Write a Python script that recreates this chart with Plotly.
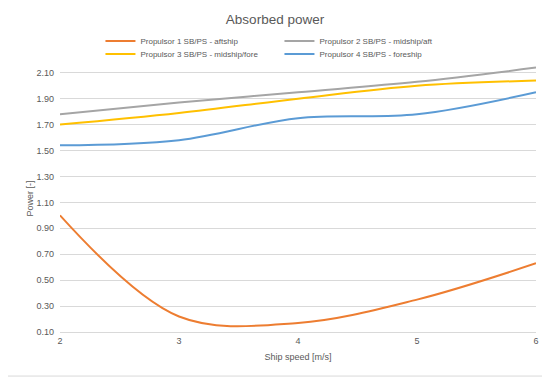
import plotly.graph_objects as go

speed = [2, 3, 4, 5, 6]
p1_aftship = [1.00, 0.22, 0.17, 0.35, 0.63]
p2_midship_aft = [1.78, 1.87, 1.95, 2.03, 2.14]
p3_midship_fore = [1.70, 1.79, 1.90, 2.00, 2.04]
p4_foreship = [1.54, 1.58, 1.75, 1.78, 1.95]

names = ["Propulsor 1 SB/PS - aftship", "Propulsor 2 SB/PS - midship/aft",
         "Propulsor 3 SB/PS - midship/fore", "Propulsor 4 SB/PS - foreship"]
series = [p1_aftship, p2_midship_aft, p3_midship_fore, p4_foreship]
colors = ["#ED7D31", "#A5A5A5", "#FFC000", "#5B9BD5"]
legend_rows = ["legend", "legend", "legend2", "legend2"]

FONT = "Liberation Sans Narrow, Liberation Sans, sans-serif"
GRAY = "#595959"

fig = go.Figure()
for n, s, c, lg in zip(names, series, colors, legend_rows):
    fig.add_trace(go.Scatter(x=speed, y=s, name=n, mode="lines", legend=lg,
                             line=dict(color=c, width=2, shape="spline", smoothing=1)))

leg_common = dict(orientation="h", x=0.085, xanchor="left", yanchor="middle", yref="container",
                  entrywidth=134, entrywidthmode="pixels", font=dict(size=8, color=GRAY, family=FONT),
                  itemwidth=30, bgcolor="rgba(0,0,0,0)")

fig.update_layout(
    width=550, height=378,
    margin=dict(l=52, r=22, t=57, b=54, autoexpand=False),
    paper_bgcolor="white", plot_bgcolor="white",
    font=dict(family=FONT, color=GRAY, size=9),
    title=dict(text="Absorbed power", xref="container", x=0.4855, xanchor="center",
               yref="container", y=1 - 11 / 378, yanchor="middle",
               font=dict(size=13.5, color=GRAY, family=FONT)),
    legend=dict(leg_common, y=1 - 33 / 378),
    legend2=dict(leg_common, y=1 - 46 / 378),
    showlegend=True,
)
fig.update_xaxes(range=[2, 6], dtick=1, tick0=2, showgrid=False, zeroline=False,
                 showline=True, linecolor="#D9D9D9", linewidth=1, automargin=False,
                 ticks="", tickfont=dict(size=9, color=GRAY),
                 title=dict(text="Ship speed [m/s]", font=dict(size=9, color=GRAY), standoff=8))
fig.update_yaxes(range=[0.10, 2.16], tickvals=[0.10 + 0.2 * i for i in range(11)],
                 tickformat=".2f",
                 showgrid=True, gridcolor="#D9D9D9", gridwidth=1, zeroline=False,
                 showline=False, ticks="", tickfont=dict(size=9, color=GRAY), automargin=False,
                 ticklabelstandoff=5,
                 title=dict(text="Power [-]", font=dict(size=9, color=GRAY), standoff=1))

fig.add_shape(type="rect", xref="paper", yref="paper",
              x0=-0.1155, x1=1.023, y0=-0.165, y1=1.229,
              line=dict(color="#D9D9D9", width=1), fillcolor="rgba(0,0,0,0)", layer="below")

fig.write_html("out.html")
